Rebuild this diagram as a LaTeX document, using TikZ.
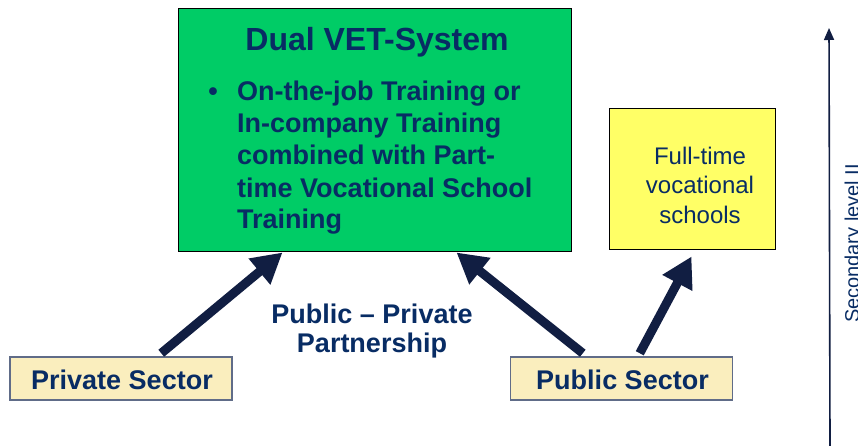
\documentclass[tikz,border=0pt]{standalone}
\usepackage{fontspec}
\setmainfont{Liberation Sans}
\usetikzlibrary{arrows.meta,calc}

\definecolor{navytext}{RGB}{8,44,100}
\definecolor{navyarrow}{RGB}{17,30,66}
\definecolor{dualgreen}{RGB}{0,204,102}
\definecolor{schoolyellow}{RGB}{255,255,102}
\definecolor{sectorbeige}{RGB}{250,238,190}
\definecolor{sectorline}{RGB}{96,108,136}

\tikzset{
  box/.style={draw, rectangle, inner sep=0pt},
  greenbox/.style={box, fill=dualgreen, draw=black, line width=1pt},
  yellowbox/.style={box, fill=schoolyellow, draw=black, line width=1pt},
  sectorbox/.style={box, fill=sectorbeige, draw=sectorline, line width=1.5pt,
    minimum width=222pt, minimum height=43pt},
  txt/.style={inner sep=0pt, text=navytext},
  bigarrow/.style={draw=navyarrow, line width=9pt,
    -{Triangle[length=30pt,width=32pt]}, shorten >=0pt},
}

\begin{document}
\begin{tikzpicture}[x=1pt,y=-1pt]
  \useasboundingbox (0,0) rectangle (858,446);
  \clip (0,0) rectangle (858,446);
  \fill[white] (0,0) rectangle (858,446);

  % main box: dual system
  \node[greenbox, minimum width=393pt, minimum height=242pt] (dual) at (374.5,130) {};
  \node[txt, anchor=base, font=\fontsize{32}{38}\selectfont\bfseries] (title) at (377,51) {Dual VET-System};
  \node[txt, anchor=base, font=\fontsize{27}{32}\selectfont\bfseries] (bullet) at (213,101) {•};
  \node[txt, anchor=base west, font=\fontsize{27}{32}\selectfont\bfseries] (l1) at (237,101) {On-the-job Training or};
  \node[txt, anchor=base west, font=\fontsize{27}{32}\selectfont\bfseries] (l2) at (237,133) {In-company Training};
  \node[txt, anchor=base west, font=\fontsize{27}{32}\selectfont\bfseries] (l3) at (237,165) {combined with Part-};
  \node[txt, anchor=base west, font=\fontsize{27}{32}\selectfont\bfseries] (l4) at (237,197) {time Vocational School};
  \node[txt, anchor=base west, font=\fontsize{27}{32}\selectfont\bfseries] (l5) at (237,229) {Training};

  % full-time schools
  \node[yellowbox, minimum width=166pt, minimum height=140pt] (school) at (692,179) {};
  \node[txt, anchor=base, font=\fontsize{24}{29}\selectfont] (s1) at (700,165) {Full-time};
  \node[txt, anchor=base, font=\fontsize{24}{29}\selectfont] (s2) at (700,194) {vocational};
  \node[txt, anchor=base, font=\fontsize{24}{29}\selectfont] (s3) at (700,223) {schools};

  % sectors
  \node[sectorbox] (private) at (121,378.5) {};
  \node[txt, anchor=base, font=\fontsize{27}{32}\selectfont\bfseries] (privtxt) at (122,389) {Private Sector};
  \node[sectorbox] (public) at (621.5,378.5) {};
  \node[txt, anchor=base, font=\fontsize{27}{32}\selectfont\bfseries] (pubtxt) at (622.5,389) {Public Sector};

  % partnership label
  \node[txt, anchor=base, font=\fontsize{27}{32}\selectfont\bfseries] (ppp1) at (372,323) {Public – Private};
  \node[txt, anchor=base, font=\fontsize{27}{32}\selectfont\bfseries] (ppp2) at (372,352) {Partnership};

  % arrows into the boxes
  \draw[bigarrow] ($(private.north west)+(152,-3)$) -- ($(dual.south west)+(105,1)$);
  \draw[bigarrow] ($(public.north west)+(73,-3)$) -- ($(dual.south west)+(279,1)$);
  \draw[bigarrow] ($(public.north west)+(130,-3)$) -- ($(school.south west)+(83,7)$);

  % vertical level axis
  \coordinate (axbottom) at (830,446);
  \coordinate (axtop) at (829,28);
  \draw[navyarrow, line width=1.6pt, -{Triangle[length=12pt,width=10pt]}] (axbottom) -- (axtop);
  \node[txt, anchor=base, rotate=90, font=\fontsize{20}{24}\selectfont] (level) at (859,243.5) {Secondary level II};
\end{tikzpicture}
\end{document}
